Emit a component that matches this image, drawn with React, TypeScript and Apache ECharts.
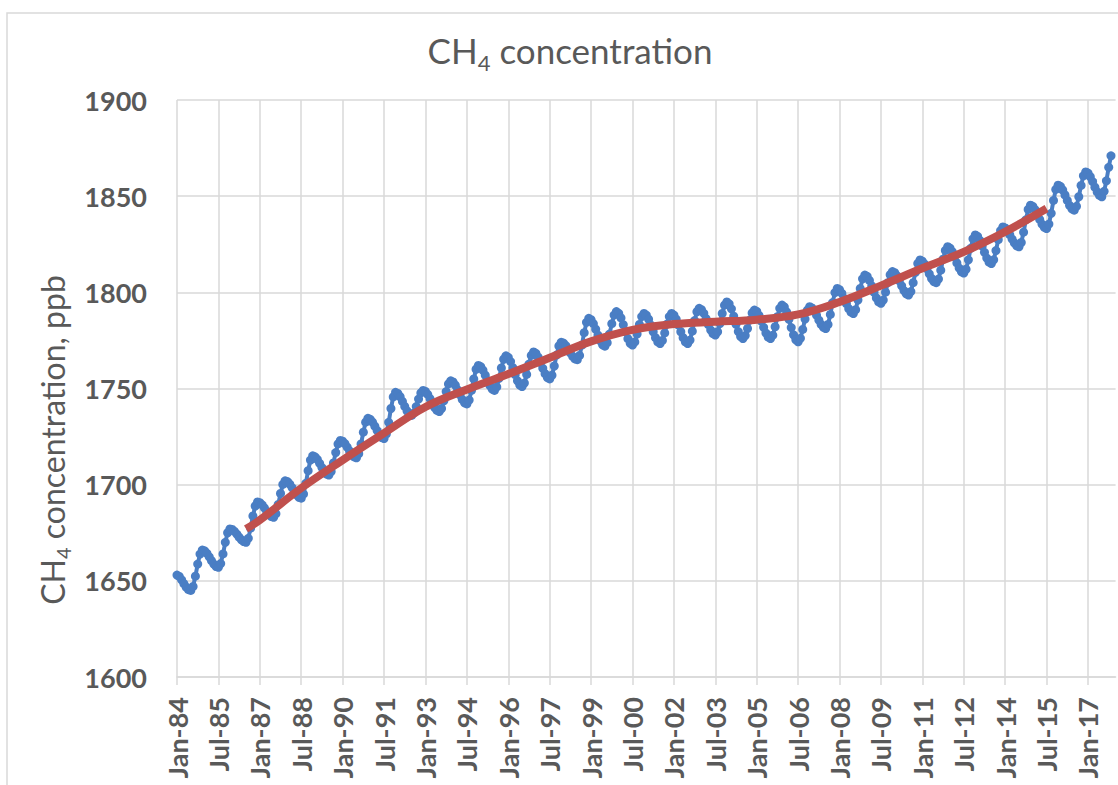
import React, { useEffect, useRef } from 'react';
import * as echarts from 'echarts';

// monthly CH4 (ppb), Jan..Dec each year
const y1984 = [1653, 1652.3, 1650.5, 1648.5, 1646.7, 1645.4, 1645, 1647.1, 1652.4, 1658.7, 1663.9, 1666];
const y1985 = [1665.6, 1664.3, 1662.5, 1660.5, 1658.7, 1657.4, 1657, 1659, 1664, 1670, 1675, 1677];
const y1986 = [1676.7, 1675.7, 1674.3, 1672.7, 1671.3, 1670.4, 1670, 1672.1, 1677.4, 1683.7, 1688.9, 1691];
const y1987 = [1690.6, 1689.5, 1687.9, 1686.1, 1684.5, 1683.4, 1683, 1684.9, 1689.7, 1695.4, 1700.1, 1702];
const y1988 = [1701.6, 1700.3, 1698.5, 1696.5, 1694.7, 1693.4, 1693, 1695.2, 1700.7, 1707.3, 1712.8, 1715];
const y1989 = [1714.5, 1713.1, 1711.1, 1708.9, 1706.9, 1705.5, 1705, 1706.8, 1711.3, 1716.7, 1721.2, 1723];
const y1990 = [1722.6, 1721.3, 1719.5, 1717.5, 1715.7, 1714.4, 1714, 1716.1, 1721.2, 1727.3, 1732.5, 1734.5];
const y1991 = [1734, 1732.5, 1730.4, 1728.1, 1726, 1724.5, 1724, 1726.4, 1732.4, 1739.6, 1745.6, 1748];
const y1992 = [1747.4, 1745.7, 1743.3, 1740.7, 1738.3, 1736.6, 1736, 1737.3, 1740.6, 1744.5, 1747.7, 1749];
const y1993 = [1748.5, 1746.9, 1744.7, 1742.3, 1740.1, 1738.6, 1738, 1739.6, 1743.6, 1748.4, 1752.4, 1754];
const y1994 = [1753.4, 1751.7, 1749.3, 1746.7, 1744.3, 1742.6, 1742, 1744, 1749, 1755, 1760, 1762];
const y1995 = [1761.4, 1759.5, 1756.9, 1754.1, 1751.5, 1749.7, 1749, 1750.8, 1755.3, 1760.7, 1765.2, 1767];
const y1996 = [1766.2, 1764, 1760.8, 1757.2, 1754, 1751.8, 1751, 1752.8, 1757.3, 1762.7, 1767.2, 1769];
const y1997 = [1768.3, 1766.3, 1763.5, 1760.5, 1757.7, 1755.7, 1755, 1756.9, 1761.7, 1767.4, 1772.1, 1774];
const y1998 = [1773.6, 1772.3, 1770.5, 1768.5, 1766.7, 1765.4, 1765, 1767.2, 1772.5, 1779, 1784.4, 1786.5];
const y1999 = [1785.8, 1783.7, 1780.8, 1777.7, 1774.8, 1772.7, 1772, 1773.8, 1778.3, 1783.7, 1788.2, 1790];
const y2000 = [1789.1, 1786.7, 1783.2, 1779.4, 1775.9, 1773.5, 1772.6, 1774.2, 1778.3, 1783.3, 1787.4, 1789];
const y2001 = [1788.2, 1786, 1782.9, 1779.5, 1776.4, 1774.2, 1773.4, 1775, 1778.9, 1783.5, 1787.4, 1789];
const y2002 = [1788.2, 1786, 1782.9, 1779.5, 1776.4, 1774.2, 1773.4, 1775.2, 1779.8, 1785.3, 1789.9, 1791.7];
const y2003 = [1791, 1789.1, 1786.3, 1783.2, 1780.4, 1778.5, 1777.8, 1779.5, 1783.8, 1789, 1793.3, 1795];
const y2004 = [1794, 1791.4, 1787.6, 1783.4, 1779.6, 1777, 1776, 1777.5, 1781.2, 1785.6, 1789.3, 1790.8];
const y2005 = [1790.1, 1788, 1785, 1781.8, 1778.8, 1776.7, 1776, 1777.7, 1782.1, 1787.3, 1791.7, 1793.4];
const y2006 = [1792.4, 1789.8, 1786, 1781.7, 1777.9, 1775.3, 1774.3, 1776.1, 1780.7, 1786.1, 1790.7, 1792.5];
const y2007 = [1791.9, 1790.4, 1788.1, 1785.6, 1783.3, 1781.8, 1781.2, 1783.3, 1788.5, 1794.7, 1799.9, 1802];
const y2008 = [1801.4, 1799.5, 1796.9, 1794.1, 1791.5, 1789.7, 1789, 1791, 1796, 1802, 1807, 1809];
const y2009 = [1808.3, 1806.2, 1803.3, 1800, 1797.1, 1795, 1794.3, 1796, 1800.1, 1805, 1809.2, 1810.8];
const y2010 = [1810.2, 1808.5, 1806, 1803.4, 1800.9, 1799.2, 1798.6, 1800.4, 1805, 1810.4, 1815, 1816.8];
const y2011 = [1816.2, 1814.6, 1812.2, 1809.6, 1807.2, 1805.6, 1805, 1806.9, 1811.5, 1817.2, 1821.8, 1823.7];
const y2012 = [1823, 1821.1, 1818.4, 1815.3, 1812.6, 1810.7, 1810, 1812, 1816.9, 1822.9, 1827.8, 1829.8];
const y2013 = [1829.1, 1827, 1824, 1820.8, 1817.8, 1815.7, 1815, 1816.9, 1821.7, 1827.4, 1832.1, 1834];
const y2014 = [1833.5, 1832, 1830, 1827.7, 1825.7, 1824.2, 1823.7, 1825.9, 1831.3, 1837.7, 1843.1, 1845.3];
const y2015 = [1844.7, 1843, 1840.6, 1837.9, 1835.5, 1833.8, 1833.2, 1835.5, 1841.1, 1847.8, 1853.5, 1855.7];
const y2016 = [1855.1, 1853.2, 1850.6, 1847.8, 1845.2, 1843.4, 1842.7, 1844.7, 1849.7, 1855.6, 1860.6, 1862.6];
const y2017 = [1862, 1860.1, 1857.6, 1854.7, 1852.2, 1850.4, 1849.7, 1852.5, 1858, 1865, 1871];

const monthlyValues = [
  ...y1984, ...y1985, ...y1986, ...y1987, ...y1988, ...y1989, ...y1990, ...y1991, ...y1992,
  ...y1993, ...y1994, ...y1995, ...y1996, ...y1997, ...y1998, ...y1999, ...y2000, ...y2001,
  ...y2002, ...y2003, ...y2004, ...y2005, ...y2006, ...y2007, ...y2008, ...y2009, ...y2010,
  ...y2011, ...y2012, ...y2013, ...y2014, ...y2015, ...y2016, ...y2017,
];

// smoothed trend (red), read at the labelled months
const trendMonths = ['Jul-86', 'Jan-87', 'Jul-88', 'Jan-90', 'Jul-91', 'Jan-93', 'Jul-94', 'Jan-96', 'Jul-97', 'Jan-99', 'Jul-00',
  'Jan-02', 'Jul-03', 'Jan-05', 'Jul-06', 'Jan-08', 'Jul-09', 'Jan-11', 'Jul-12', 'Jan-14', 'Jul-15'];
const trendValues = [1677, 1681.6, 1698.2, 1712.8, 1726.8, 1740.4, 1749.5, 1757.5, 1766, 1774.5, 1780.5,
  1783.5, 1784.7, 1785.8, 1788.5, 1795, 1803.5, 1812.5, 1821, 1831.5, 1843.6];

const monthNames = ['Jan', 'Feb', 'Mar', 'Apr', 'May', 'Jun', 'Jul', 'Aug', 'Sep', 'Oct', 'Nov', 'Dec'];
const firstYear = 1984;
const categoryCount = 409; // Jan-84 .. Jan-18 (axis runs a little past the data)

const categories: string[] = [];
for (let i = 0; i < categoryCount; i++) {
  const yr = firstYear + Math.floor(i / 12);
  categories.push(monthNames[i % 12] + '-' + String(yr % 100).padStart(2, '0'));
}

const FONT = 'Lato, "Open Sans", sans-serif';
const GREY = '#595959';
const GRID = '#d9d9d9';
const BLUE = '#4a7ec4';

function richFor(size: number) {
  return {
    a: { fontSize: size, fontFamily: FONT, fill: GREY, color: GREY },
    b: { fontSize: Math.round(size * 0.62), fontFamily: FONT, fill: GREY, color: GREY, padding: [Math.round(size * 0.7), 0, 0, 0] },
  };
}

export default function App() {
  const ref = useRef<HTMLDivElement>(null);
  useEffect(() => {
    if (!ref.current) return;
    const chart = echarts.init(ref.current, undefined, { renderer: 'svg' });
    chart.setOption({
      animation: false,
      backgroundColor: '#fff',
      textStyle: { fontFamily: FONT },
      grid: { left: 177, top: 100, right: 2.4, bottom: 108, outerBoundsMode: 'none' },
      graphic: [
        { type: 'rect', z: -10, shape: { x: 7, y: 13, width: 1300, height: 1000 }, style: { fill: 'none', stroke: GRID, lineWidth: 1.5 } },
        {
          type: 'text', x: 570, y: 50,
          style: { text: '{a|CH}{b|4}{a| concentration}', rich: richFor(35), fill: GREY, align: 'center', verticalAlign: 'middle' },
        },
        {
          type: 'text', x: 52, y: 440, rotation: Math.PI / 2,
          style: { text: '{a|CH}{b|4}{a| concentration, ppb}', rich: richFor(32), fill: GREY, align: 'center', verticalAlign: 'middle' },
        },
      ],
      xAxis: {
        type: 'category',
        data: categories,
        boundaryGap: false,
        axisLine: { lineStyle: { color: GRID, width: 1.5 } },
        axisTick: { show: true, interval: 17, length: 8, lineStyle: { color: GRID, width: 1.5 } },
        axisLabel: { interval: 17, rotate: 90, margin: 20, fontSize: 27, fontWeight: 'bold', color: GREY, fontFamily: FONT },
        splitLine: { show: true, interval: 17, lineStyle: { color: GRID, width: 1.5 } },
      },
      yAxis: {
        type: 'value',
        min: 1600,
        max: 1900,
        interval: 50,
        axisLine: { show: false },
        axisTick: { show: false },
        axisLabel: { margin: 30, fontSize: 27, fontWeight: 'bold', color: GREY, fontFamily: FONT, formatter: (v: number) => String(v) },
        splitLine: { lineStyle: { color: GRID, width: 1.5 } },
      },
      series: [
        {
          type: 'line',
          data: monthlyValues,
          symbol: 'circle',
          symbolSize: 9,
          showAllSymbol: true,
          color: BLUE,
          lineStyle: { color: BLUE, width: 4 },
          itemStyle: { color: BLUE },
          z: 2,
        },
        {
          type: 'line',
          data: trendMonths.map((m, i) => [m, trendValues[i]]),
          smooth: 0.4,
          symbol: 'none',
          lineStyle: { color: '#c0504d', width: 8 },
          z: 3,
        },
      ],
    });
    return () => chart.dispose();
  }, []);
  return <div ref={ref} style={{ position: 'fixed', left: 0, top: 0, width: 1118, height: 785, background: '#fff' }} />;
}
